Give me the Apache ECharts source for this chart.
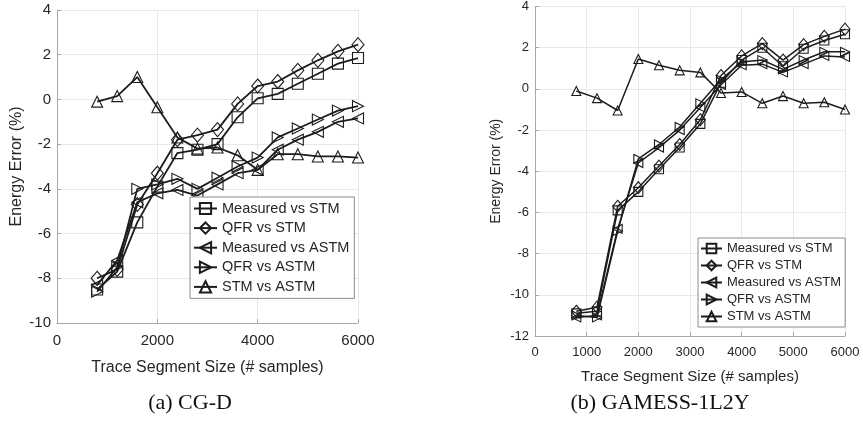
<!DOCTYPE html>
<html>
<head>
<meta charset="utf-8">
<script src="https://cdn.jsdelivr.net/npm/echarts@6/dist/echarts.min.js"></script>
<style>
html,body{margin:0;padding:0;background:#fff;}
#chart{width:863px;height:421px;}
</style>
</head>
<body>
<div id="chart"></div>
<script>
// ---- data ----
const segSizes = [800, 1200, 1600, 2000, 2400, 2800, 3200, 3600, 4000, 4400, 4800, 5200, 5600, 6000];
const seriesNames = ['Measured vs STM', 'QFR vs STM', 'Measured vs ASTM', 'QFR vs ASTM', 'STM vs ASTM'];

// (a) CG-D
const cgdMeasSTM  = [-8.5, -7.7, -5.5, -3.9, -2.4, -2.25, -2.0, -0.8, 0.05, 0.25, 0.7, 1.15, 1.6, 1.85];
const cgdQfrSTM   = [-8.0, -7.6, -4.7, -3.3, -1.8, -1.6, -1.35, -0.2, 0.6, 0.8, 1.3, 1.75, 2.15, 2.45];
const cgdMeasASTM = [-8.3, -7.2, -4.6, -4.2, -4.05, -4.3, -3.8, -3.3, -3.15, -2.25, -1.8, -1.45, -1.0, -0.85];
const cgdQfrASTM  = [-8.6, -7.5, -4.0, -3.8, -3.55, -4.0, -3.5, -3.0, -2.6, -1.7, -1.3, -0.9, -0.5, -0.3];
const cgdStmASTM  = [-0.1, 0.15, 1.0, -0.35, -1.7, -2.2, -2.15, -2.5, -3.15, -2.45, -2.45, -2.55, -2.55, -2.6];

// (b) GAMESS-1L2Y
const gamMeasSTM  = [-10.9, -10.8, -5.9, -5.0, -3.9, -2.85, -1.7, 0.3, 1.4, 2.0, 1.1, 1.95, 2.35, 2.65];
const gamQfrSTM   = [-10.8, -10.6, -5.7, -4.8, -3.75, -2.7, -1.5, 0.65, 1.6, 2.2, 1.4, 2.15, 2.55, 2.9];
const gamMeasASTM = [-11.1, -11.0, -6.8, -3.6, -2.85, -2.0, -0.9, 0.2, 1.15, 1.2, 0.8, 1.2, 1.6, 1.55];
const gamQfrASTM  = [-11.0, -11.1, -6.9, -3.4, -2.7, -1.85, -0.7, 0.45, 1.3, 1.4, 0.95, 1.4, 1.8, 1.8];
const gamStmASTM  = [-0.1, -0.45, -1.05, 1.45, 1.15, 0.9, 0.8, -0.2, -0.15, -0.7, -0.35, -0.7, -0.65, -1.0];

const cgdTicks = {min: 0, max: 6000, interval: 2000};
const gamTicks = {min: 0, max: 6000, interval: 1000};
const cgdY = {min: -10, max: 4, interval: 2};
const gamY = {min: -12, max: 4, interval: 2};

// ---- build ----
const markers = [
  {symbol: 'rect', rotate: 0},
  {symbol: 'diamond', rotate: 0},
  {symbol: 'triangle', rotate: 90},
  {symbol: 'triangle', rotate: -90},
  {symbol: 'triangle', rotate: 0}
];
const cgdData = [cgdMeasSTM, cgdQfrSTM, cgdMeasASTM, cgdQfrASTM, cgdStmASTM];
const gamData = [gamMeasSTM, gamQfrSTM, gamMeasASTM, gamQfrASTM, gamStmASTM];
const ink = '#1c1c1c';
const txt = '#262626';

function makeSeries(prefix, dataSets, idx, size, lw) {
  return dataSets.map((vals, i) => ({
    name: prefix + seriesNames[i],
    type: 'line',
    xAxisIndex: idx, yAxisIndex: idx,
    data: segSizes.map((x, j) => [x, vals[j]]),
    symbol: markers[i].symbol,
    symbolRotate: markers[i].rotate,
    symbolSize: markers[i].symbol === 'diamond' ? [size + 1, size + 3] : size,
    showAllSymbol: true,
    lineStyle: {color: ink, width: lw},
    itemStyle: {color: 'rgba(255,255,255,0)', borderColor: ink, borderWidth: 1.1},
    emphasis: {disabled: true},
    z: 2
  }));
}

function xAxisCfg(idx, t, fs, nfs, gap) {
  return {
    type: 'value', gridIndex: idx, min: t.min, max: t.max, interval: t.interval,
    name: 'Trace Segment Size (# samples)', nameLocation: 'middle', nameGap: gap,
    nameTextStyle: {color: txt, fontSize: nfs, fontFamily: 'Liberation Sans'},
    axisLine: {show: true, onZero: false, lineStyle: {color: '#a8a8a8', width: 1}},
    axisTick: {show: true, inside: true, length: 4, lineStyle: {color: '#a8a8a8'}},
    axisLabel: {color: txt, fontSize: fs, fontFamily: 'Liberation Sans', margin: 10, formatter: v => String(v)},
    splitLine: {show: true, lineStyle: {color: '#e8e8e8', width: 1}}
  };
}
function yAxisCfg(idx, t, fs, nfs, gap) {
  return {
    type: 'value', gridIndex: idx, min: t.min, max: t.max, interval: t.interval,
    name: 'Energy Error (%)', nameLocation: 'middle', nameGap: gap, nameRotate: 90,
    nameTextStyle: {color: txt, fontSize: nfs, fontFamily: 'Liberation Sans'},
    axisLine: {show: true, onZero: false, lineStyle: {color: '#a8a8a8', width: 1}},
    axisTick: {show: true, inside: true, length: 4, lineStyle: {color: '#a8a8a8'}},
    axisLabel: {color: txt, fontSize: fs, fontFamily: 'Liberation Sans', margin: 6, formatter: v => String(v)},
    splitLine: {show: true, lineStyle: {color: '#e8e8e8', width: 1}}
  };
}

const chart = echarts.init(document.getElementById('chart'), null, {renderer: 'canvas'});
chart.setOption({
  animation: false,
  backgroundColor: '#fff',
  grid: [
    {left: 57, top: 10, width: 301, height: 313},
    {left: 535, top: 6, width: 310, height: 330}
  ],
  xAxis: [xAxisCfg(0, cgdTicks, 15, 16, 37), xAxisCfg(1, gamTicks, 13, 15, 33)],
  yAxis: [yAxisCfg(0, cgdY, 15, 16, 32), yAxisCfg(1, gamY, 13, 14, 32)],
  legend: [
    {
      data: seriesNames.map(n => 'a:' + n),
      formatter: n => n.slice(2),
      orient: 'vertical', left: 190, top: 197,
      itemWidth: 23, itemHeight: 14, itemGap: 4.6,
      padding: [4, 5, 4, 3],
      borderColor: '#8c8c8c', borderWidth: 1, backgroundColor: '#fff',
      textStyle: {color: txt, fontSize: 14.5, fontFamily: 'Liberation Sans'},
      selectedMode: false
    },
    {
      data: seriesNames.map(n => 'b:' + n),
      formatter: n => n.slice(2),
      orient: 'vertical', left: 698, top: 238,
      itemWidth: 21, itemHeight: 12, itemGap: 4,
      padding: [4, 4, 4, 2],
      borderColor: '#8c8c8c', borderWidth: 1, backgroundColor: '#fff',
      textStyle: {color: txt, fontSize: 13, fontFamily: 'Liberation Sans'},
      selectedMode: false
    }
  ],
  graphic: [
    {type: 'text', x: 190, y: 403, style: {text: '(a) CG-D', fill: '#111', font: '22px "Liberation Serif", "DejaVu Serif", serif', textAlign: 'center', textVerticalAlign: 'middle'}},
    {type: 'text', x: 660, y: 403, style: {text: '(b) GAMESS-1L2Y', fill: '#111', font: '22px "Liberation Serif", "DejaVu Serif", serif', textAlign: 'center', textVerticalAlign: 'middle'}}
  ],
  series: [].concat(
    makeSeries('a:', cgdData, 0, 11, 1.8),
    makeSeries('b:', gamData, 1, 9, 1.5)
  )
});
</script>
</body>
</html>
